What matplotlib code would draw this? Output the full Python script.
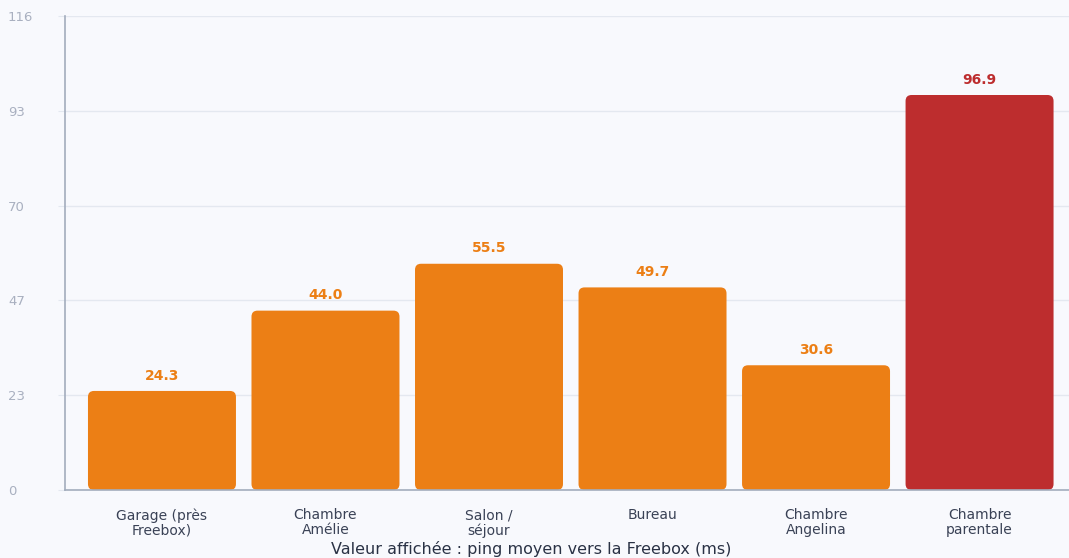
import matplotlib
matplotlib.use("Agg")
import matplotlib.pyplot as plt
from matplotlib.patches import FancyBboxPatch
import numpy as np

categories = ["Garage (près\nFreebox)", "Chambre\nAmélie", "Salon /\nséjour", "Bureau", "Chambre\nAngelina", "Chambre\nparentale"]
values = [24.3, 44.0, 55.5, 49.7, 30.6, 96.9]
colors = ["#EC7F15", "#EC7F15", "#EC7F15", "#EC7F15", "#EC7F15", "#BD2D2E"]
title = "Valeur affichée : ping moyen vers la Freebox (ms)"

bg = "#F8F9FD"
fig = plt.figure(figsize=(10.69, 5.58), dpi=100, facecolor=bg)
ax = fig.add_axes([65/1069, 68/558, 1 - 65/1069, (490-16)/558])
ax.set_facecolor(bg)

ymax = max(values) * 1.2
ax.set_ylim(0, ymax)
x = np.arange(len(categories))
ax.set_xlim(-0.593, 5.547)

ticks = np.linspace(0, ymax, 6)
ax.set_yticks(ticks)
ax.set_yticklabels([f"{t:.0f}" for t in ticks])
ax.yaxis.grid(True, color="#E4E8F0", linewidth=1)
ax.set_axisbelow(True)

width = 0.905
xunit = (1069-65) / (5.547 + 0.593)
yunit = 474 / ymax
r = 6 / xunit
aspect = (6 / yunit) / r
for xi, v, c in zip(x, values, colors):
    p = FancyBboxPatch((xi - width/2, 0), width, v,
                       boxstyle=f"round,pad=0,rounding_size={r}",
                       mutation_aspect=aspect, facecolor=c, edgecolor="none", zorder=2)
    ax.add_patch(p)
    ax.annotate(f"{v:.1f}", (xi, v), xytext=(0, 6), textcoords="offset points",
                ha="center", va="bottom", color=c, fontsize=10, fontweight="bold")

ax.set_xticks(x)
ax.set_xticklabels(categories, fontsize=10, color="#3A4256", linespacing=1.1)
ax.tick_params(axis="x", length=0, pad=13)
ax.tick_params(axis="y", length=5, color="#E4E8F0", labelcolor="#A9B0C0", labelsize=9.5, pad=36)
for lab in ax.get_yticklabels():
    lab.set_horizontalalignment("left")

for s in ["top", "right"]:
    ax.spines[s].set_visible(False)
for s in ["left", "bottom"]:
    ax.spines[s].set_color("#A3ADBD")
    ax.spines[s].set_linewidth(1.2)

fig.text(531/1069, 1 - 549/558, title, ha="center", va="center", fontsize=11.5, color="#2A3245")

fig.savefig("out.png", dpi=100, facecolor=bg)
